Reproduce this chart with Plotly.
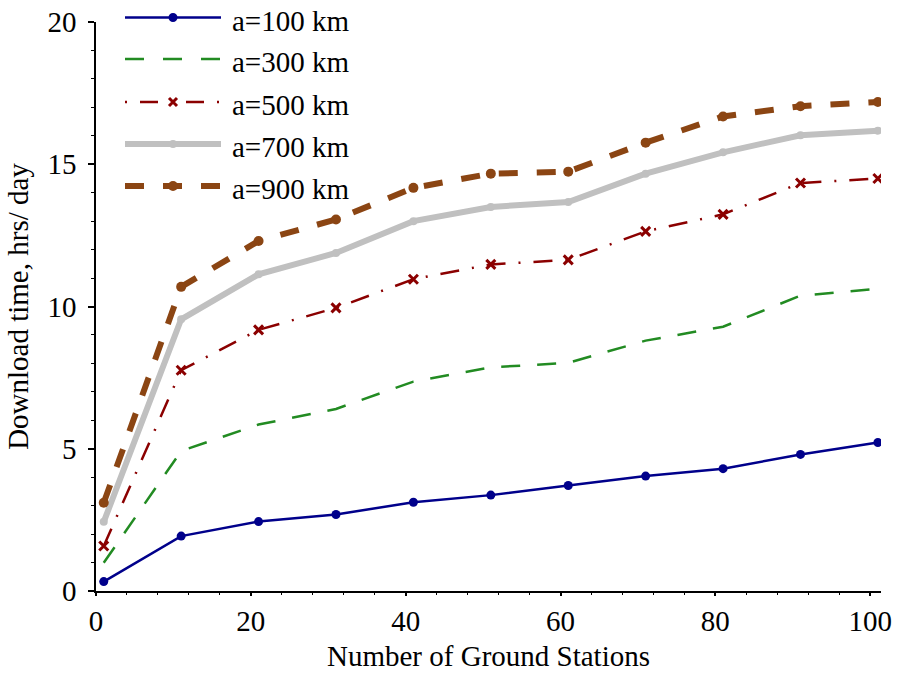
import plotly.graph_objects as go

# Number of ground stations and daily download time per orbit altitude
stations = [1, 11, 21, 31, 41, 51, 61, 71, 81, 91, 101]
a100 = [0.33, 1.93, 2.44, 2.69, 3.12, 3.37, 3.71, 4.04, 4.30, 4.80, 5.22]
a300 = [0.99, 4.92, 5.85, 6.40, 7.36, 7.86, 8.02, 8.80, 9.29, 10.38, 10.62]
a500 = [1.58, 7.76, 9.18, 9.95, 10.96, 11.48, 11.64, 12.64, 13.24, 14.34, 14.50]
a700 = [2.43, 9.55, 11.13, 11.88, 13.00, 13.50, 13.67, 14.67, 15.42, 16.02, 16.18]
a900 = [3.10, 10.69, 12.30, 13.06, 14.17, 14.67, 14.74, 15.76, 16.68, 17.04, 17.19]

names = ["a=100 km", "a=300 km", "a=500 km", "a=700 km", "a=900 km"]
x_ticks = [0, 20, 40, 60, 80, 100]
y_ticks = [0, 5, 10, 15, 20]

FONT = "Liberation Serif, Times New Roman, serif"
FS = 29
W, H = 898, 677
L, R, T, B = 96, 17, 22, 86
PW, PH = W - L - R, H - T - B

styles = [
    dict(color="#00008b", width=2.5, dash="solid", marker=dict(symbol="circle", size=9, color="#00008b")),
    dict(color="#228b22", width=2.5, dash="19px,17px", marker=None),
    dict(color="#8b0000", width=2.5, dash="19px,13px,2px,13px",
         marker=dict(symbol="x-thin", size=9, color="#8b0000", line=dict(width=3, color="#8b0000"))),
    dict(color="#c0c0c0", width=6, dash="solid", marker=dict(symbol="circle", size=8, color="#c0c0c0")),
    dict(color="#8b4513", width=6, dash="19px,19px", marker=dict(symbol="circle", size=10, color="#8b4513")),
]
series = [a100, a300, a500, a700, a900]

fig = go.Figure()
for name, ys, st in zip(names, series, styles):
    mode = "lines+markers" if st["marker"] else "lines"
    kw = dict(marker=st["marker"]) if st["marker"] else {}
    fig.add_trace(go.Scatter(
        x=stations, y=ys, name=name, mode=mode,
        line=dict(color=st["color"], width=st["width"], dash=st["dash"]),
        showlegend=False, **kw,
    ))


def px_x(p):
    return (p - L) / PW


def px_y(p):
    return (H - B - p) / PH


# Hand-drawn legend with long line samples
shapes, annotations = [], []
row_y = [17.5, 59, 102, 144, 186]
legend_dash = ["solid", "19px,19px", "2px,13px,18px,13px", "solid", "19px,19px"]
x0p, x1p, xm = 125, 221, 173
for name, st, ry, dsh in zip(names, styles, row_y, legend_dash):
    shapes.append(dict(type="line", xref="paper", yref="paper",
                       x0=px_x(x0p), x1=px_x(x1p), y0=px_y(ry), y1=px_y(ry),
                       line=dict(color=st["color"], width=st["width"], dash=dsh)))
    m = st["marker"]
    if m is not None:
        if m["symbol"] == "circle":
            r = m["size"] / 2
            shapes.append(dict(type="circle", xref="paper", yref="paper",
                               xsizemode="pixel", ysizemode="pixel",
                               xanchor=px_x(xm), yanchor=px_y(ry),
                               x0=-r, x1=r, y0=-r, y1=r,
                               fillcolor=m["color"], line=dict(width=0)))
        else:
            shapes.append(dict(type="path", xref="paper", yref="paper",
                               xsizemode="pixel", ysizemode="pixel",
                               xanchor=px_x(xm), yanchor=px_y(ry),
                               path="M-4,-4L4,4M-4,4L4,-4",
                               line=dict(color=m["color"], width=3)))
    annotations.append(dict(xref="paper", yref="paper", x=px_x(230), y=px_y(ry + 3),
                            xanchor="left", yanchor="middle", showarrow=False,
                            text=name, font=dict(family=FONT, size=FS, color="black")))

fig.update_layout(
    width=W, height=H,
    margin=dict(l=L, r=R, t=T, b=B, pad=0),
    paper_bgcolor="white", plot_bgcolor="white",
    font=dict(family=FONT, size=FS, color="black"),
    shapes=shapes, annotations=annotations,
    showlegend=False,
)
fig.update_xaxes(
    range=[0, 101.4], tickvals=x_ticks, ticktext=[str(v) for v in x_ticks],
    showgrid=False, zeroline=False, showline=True, linecolor="black", linewidth=1.5,
    ticks="outside", ticklen=3, tickwidth=1.5, tickcolor="black",
    minor=dict(dtick=4, tick0=0, ticks="outside", ticklen=2, tickcolor="black", tickwidth=1),
    tickfont=dict(family=FONT, size=FS),
    title=dict(text="Number of Ground Stations", font=dict(family=FONT, size=FS), standoff=10),
    automargin=False,
)
fig.update_yaxes(
    range=[0, 20], tickvals=y_ticks, ticktext=[str(v) for v in y_ticks],
    showgrid=False, zeroline=False, showline=True, linecolor="black", linewidth=1.5,
    ticks="outside", ticklen=6, tickwidth=1.5, tickcolor="black",
    minor=dict(dtick=1, tick0=0, ticks="outside", ticklen=3, tickcolor="black", tickwidth=1),
    tickfont=dict(family=FONT, size=FS), ticklabelstandoff=6,
    title=dict(text="Download time, hrs/ day", font=dict(family=FONT, size=FS), standoff=10),
    automargin=False,
)

fig.write_html("out.html")
